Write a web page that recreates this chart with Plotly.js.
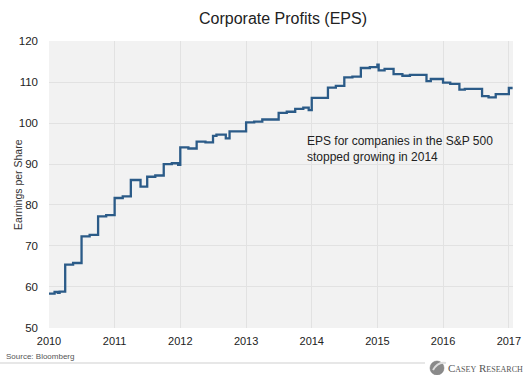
<!DOCTYPE html>
<html>
<head>
<meta charset="utf-8">
<script src="https://cdn.plot.ly/plotly-3.0.1.min.js"></script>
<style>html,body{margin:0;padding:0;background:#fff;}#chart{width:530px;height:375px;}</style>
</head>
<body>
<div id="chart"></div>
<script>
// Data (EPS, S&P 500)
const dates = [
  '2010-01-01','2010-02-01','2010-02-20','2010-03-01',
  '2010-04-01','2010-05-15','2010-07-01','2010-08-15',
  '2010-10-01','2010-11-15','2011-01-01','2011-02-15',
  '2011-04-01','2011-05-25','2011-07-01','2011-08-15',
  '2011-10-01','2011-11-15','2011-12-20','2012-01-01',
  '2012-02-15','2012-04-01','2012-05-20','2012-07-01',
  '2012-07-20','2012-09-10','2012-10-01','2013-01-01',
  '2013-02-15','2013-04-01','2013-07-01','2013-08-15',
  '2013-10-01','2013-11-15','2013-12-15','2014-01-01',
  '2014-04-01','2014-05-15','2014-07-01','2014-08-15',
  '2014-10-01','2014-11-20','2015-01-01','2015-01-08',
  '2015-02-10','2015-04-01','2015-05-20','2015-07-01',
  '2015-10-01','2015-10-25','2016-01-01','2016-02-10',
  '2016-04-01','2016-05-01','2016-08-05','2016-09-10',
  '2016-10-20','2017-01-01','2017-01-22'
];
const eps = [
  58.3, 58.7, 58.5, 58.8,
  65.4, 65.8, 72.3, 72.7,
  77.2, 77.5, 81.7, 82.1,
  86.1, 84.5, 86.9, 87.2,
  90.0, 90.2, 89.8, 94.1,
  93.8, 95.5, 95.3, 96.9,
  97.2, 96.3, 98.0, 100.2,
  100.4, 100.9, 102.5, 102.8,
  103.5, 103.8, 103.2, 106.2,
  108.7, 109.1, 111.2, 111.4,
  113.5, 113.7, 114.3, 112.9,
  113.3, 112.0, 111.6, 111.8,
  110.3, 110.8, 109.9, 109.6,
  108.2, 108.4, 106.6, 106.3,
  107.1, 108.6, 108.6
];
const yTicks = [50, 60, 70, 80, 90, 100, 110, 120];
const xTickVals = ['2010-01-01','2011-01-01','2012-01-01','2013-01-01','2014-01-01','2015-01-01','2016-01-01','2017-01-01'];
const xTickText = ['2010','2011','2012','2013','2014','2015','2016','2017'];

const FONT = '"Liberation Sans", Arial, sans-serif';

const trace = {
  x: dates, y: eps, type: 'scatter', mode: 'lines',
  line: {shape: 'hv', color: '#2b5b88', width: 2.3},
  hoverinfo: 'skip'
};

const layout = {
  width: 530, height: 375,
  margin: {l: 49, r: 17, t: 41, b: 47},
  paper_bgcolor: '#ffffff',
  plot_bgcolor: '#f2f2f2',
  showlegend: false,
  font: {family: FONT, color: '#333'},
  title: {
    text: 'Corporate Profits (EPS)',
    font: {family: FONT, size: 16, color: '#222'},
    x: 283/530, xanchor: 'center', xref: 'container',
    y: 1 - 18/375, yanchor: 'middle', yref: 'container'
  },
  xaxis: {
    type: 'date',
    range: ['2010-01-01', '2017-01-24'],
    tickvals: xTickVals, ticktext: xTickText,
    showgrid: true, gridcolor: '#e2e2e2', gridwidth: 1,
    zeroline: false, showline: false, ticks: '',
    tickfont: {family: FONT, size: 11, color: '#222'},
    ticklabelstandoff: 5
  },
  yaxis: {
    range: [49.9, 120.1],
    tickvals: yTicks,
    showgrid: true, gridcolor: '#e2e2e2', gridwidth: 1,
    zeroline: false, showline: false, ticks: '',
    tickfont: {family: FONT, size: 11.5, color: '#222'},
    ticklabelstandoff: 10
  },
  annotations: [
    {text: 'Earnings per Share', textangle: -90, xref: 'paper', yref: 'paper',
     x: -0.068, y: 0.5, xanchor: 'center', yanchor: 'middle', showarrow: false,
     font: {family: FONT, size: 10.5, color: '#333'}},
    {text: 'EPS for companies in the S&amp;P 500<br>stopped growing in 2014', xref: 'paper', yref: 'paper',
     x: (305-49)/464, y: 1 - (149-41)/287, xanchor: 'left', yanchor: 'middle', align: 'left', showarrow: false,
     font: {family: FONT, size: 12, color: '#222'}},
    {text: 'Source: Bloomberg', xref: 'paper', yref: 'paper',
     x: -49/464 + 4/464, y: -(356-328)/287, xanchor: 'left', yanchor: 'middle', showarrow: false,
     font: {family: FONT, size: 8, color: '#555'}},
    {text: 'Casey Research', xref: 'paper', yref: 'paper',
     x: (446-49)/464, y: -(368-328)/287, xanchor: 'left', yanchor: 'middle', showarrow: false,
     font: {family: '"Liberation Serif", "DejaVu Serif", serif', size: 11, color: '#555', variant: 'small-caps'}}
  ],
  shapes: [
    {type: 'line', xref: 'paper', yref: 'paper', x0: -49/464, x1: (425-49)/464,
     y0: -(363-328)/287, y1: -(363-328)/287, line: {color: '#cfcfcf', width: 1}},
    {type: 'circle', xref: 'paper', yref: 'paper',
     x0: (430-49)/464, x1: (444-49)/464, y0: -(375-328)/287, y1: -(361-328)/287,
     fillcolor: '#8a8a8a', line: {color: '#777', width: 0.5}},
    {type: 'path', xref: 'paper', yref: 'paper',
     path: 'M ' + (433-49)/464 + ' ' + (-(370-328)/287) + ' Q ' + (438-49)/464 + ' ' + (-(361-328)/287) + ' ' + (446-49)/464 + ' ' + (-(363-328)/287),
     line: {color: '#dddddd', width: 2}}
  ]
};

Plotly.newPlot('chart', [trace], layout, {displayModeBar: false, staticPlot: true});
</script>
</body>
</html>
